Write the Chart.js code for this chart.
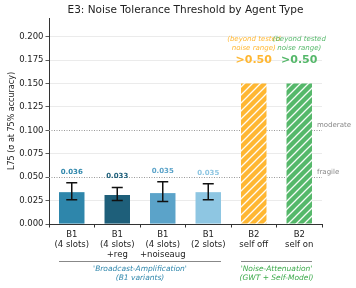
<!DOCTYPE html>
<html lang="en">
<head>
<meta charset="UTF-8">
<title>E3: Noise Tolerance Threshold by Agent Type</title>
<script src="https://cdn.jsdelivr.net/npm/chart.js"></script>
<style>
  html, body { margin: 0; padding: 0; background: #fff; }
</style>
</head>
<body>
<canvas id="e3-chart" width="356" height="288"></canvas>
<script>
// data
const categories = [
    ['B1', '(4 slots)'],
    ['B1', '(4 slots)', '+reg'],
    ['B1', '(4 slots)', '+noiseaug'],
    ['B1', '(2 slots)'],
    ['B2', 'self off'],
    ['B2', 'self on']
];
const barValues = [0.034, 0.031, 0.033, 0.034, 0.15, 0.15];
const errLow = [0.026, 0.025, 0.024, 0.026, null, null];
const errHigh = [0.044, 0.039, 0.045, 0.043, null, null];
const valueLabels = ['0.036', '0.033', '0.035', '0.035', '>0.50', '>0.50'];
const barColors = ['#2E86AB', '#1E5F7A', '#5BA3C9', '#8EC6E2', '#FFB732', '#55B86A'];
const hatched = [false, false, false, false, true, true];
const beyondNote = ['', '', '', '', '(beyond tested\nnoise range)', '(beyond tested\nnoise range)'];
const refValues = [0.1, 0.05];
const refLabels = ['moderate', 'fragile'];
const groupLabels = [["'Broadcast-Amplification'", '(B1 variants)'], ["'Noise-Attenuation'", '(GWT + Self-Model)']];
const groupStart = [0, 4];
const groupEnd = [3, 5];
const groupColors = ['#2E86AB', '#3BAA4A'];

const FONT = '"DejaVu Sans", sans-serif';

function hatch(color) {
    const n = 8;
    const c = document.createElement('canvas');
    c.width = n; c.height = n;
    const g = c.getContext('2d');
    g.fillStyle = color;
    g.fillRect(0, 0, n, n);
    g.strokeStyle = 'rgba(255,255,255,0.95)';
    g.lineWidth = 1.3;
    g.beginPath();
    g.moveTo(0, n); g.lineTo(n, 0);
    g.moveTo(-1, 1); g.lineTo(1, -1);
    g.moveTo(n - 1, n + 1); g.lineTo(n + 1, n - 1);
    g.stroke();
    return g.createPattern(c, 'repeat');
}

const ctx = document.getElementById('e3-chart').getContext('2d');
const fills = barColors.map((c, i) => hatched[i] ? hatch(c) : c);

const annotations = {
    id: 'annotations',
    beforeDatasetsDraw(chart) {
        const g = chart.ctx, y = chart.scales.y, area = chart.chartArea;
        g.save();
        g.strokeStyle = '#999';
        g.lineWidth = 1;
        g.setLineDash([1, 1.5]);
        refValues.forEach((v) => {
            const py = Math.round(y.getPixelForValue(v)) + 0.5;
            g.beginPath();
            g.moveTo(area.left, py);
            g.lineTo(area.right, py);
            g.stroke();
        });
        g.restore();
    },
    afterDatasetsDraw(chart) {
        const g = chart.ctx, y = chart.scales.y, area = chart.chartArea;
        const bars = chart.getDatasetMeta(0).data;
        g.save();
        // error bars
        g.strokeStyle = '#111';
        g.lineWidth = 1.5;
        bars.forEach((b, i) => {
            if (errLow[i] == null) return;
            const top = y.getPixelForValue(errHigh[i]);
            const bot = y.getPixelForValue(errLow[i]);
            g.beginPath();
            g.moveTo(b.x, top); g.lineTo(b.x, bot);
            g.moveTo(b.x - 5.5, top); g.lineTo(b.x + 5.5, top);
            g.moveTo(b.x - 5.5, bot); g.lineTo(b.x + 5.5, bot);
            g.stroke();
        });
        // value labels
        g.textAlign = 'center';
        g.textBaseline = 'middle';
        bars.forEach((b, i) => {
            g.fillStyle = barColors[i];
            if (errHigh[i] != null) {
                g.font = 'bold 7px ' + FONT;
                g.fillText(valueLabels[i], b.x, y.getPixelForValue(errHigh[i]) - 11);
            } else {
                const top = y.getPixelForValue(barValues[i]);
                g.font = 'bold 11px ' + FONT;
                g.fillText(valueLabels[i], b.x, top - 23);
                g.font = 'italic 7px ' + FONT;
                beyondNote[i].split('\n').forEach((line, k) => {
                    g.fillText(line, b.x, top - 44 + k * 8.5);
                });
            }
        });
        // reference line labels
        g.fillStyle = '#888';
        g.font = '7px ' + FONT;
        g.textAlign = 'left';
        refValues.forEach((v, k) => {
            g.fillText(refLabels[k], area.right - 5, y.getPixelForValue(v) - 5);
        });
        g.restore();
    },
    afterDraw(chart) {
        const g = chart.ctx, area = chart.chartArea;
        const bars = chart.getDatasetMeta(0).data;
        g.save();
        // title
        g.fillStyle = '#222';
        g.font = '10.5px ' + FONT;
        g.textAlign = 'center';
        g.textBaseline = 'middle';
        g.fillText('E3: Noise Tolerance Threshold by Agent Type', (area.left + area.right) / 2, 10);
        // group brackets
        groupLabels.forEach((lines, k) => {
            const a = bars[groupStart[k]], b = bars[groupEnd[k]];
            const x0 = a.x - a.width / 2, x1 = b.x + b.width / 2;
            g.strokeStyle = '#888';
            g.lineWidth = 1;
            g.beginPath();
            g.moveTo(x0, 261.5); g.lineTo(x1, 261.5);
            g.stroke();
            g.fillStyle = groupColors[k];
            g.font = 'italic 7.5px ' + FONT;
            lines.forEach((line, j) => g.fillText(line, (a.x + b.x) / 2, 269.5 + j * 9));
        });
        g.restore();
    }
};

new Chart(ctx, {
    type: 'bar',
    data: {
        labels: categories,
        datasets: [{
            data: barValues,
            backgroundColor: fills,
            borderWidth: 0,
            barPercentage: 0.56,
            categoryPercentage: 1
        }]
    },
    options: {
        responsive: false,
        animation: false,
        layout: { padding: { top: 18, right: 34, left: 0, bottom: 0 } },
        plugins: { legend: { display: false }, tooltip: { enabled: false } },
        scales: {
            x: {
                grid: { display: true, drawOnChartArea: false, tickLength: 3.5, color: '#333' },
                border: { color: '#333', width: 1 },
                ticks: { color: '#222', font: { family: FONT, size: 8.5, lineHeight: 1.2 }, padding: 2, maxRotation: 0, autoSkip: false },
                afterFit(scale) { scale.height = 64; }
            },
            y: {
                min: 0,
                max: 0.22,
                afterFit(scale) { scale.width = 49; },
                afterBuildTicks(scale) { scale.ticks = scale.ticks.filter(t => t.value <= 0.2001); },
                grid: {
                    color: (c) => (c.tick && refValues.some(v => Math.abs(v - c.tick.value) < 1e-6)) ? 'rgba(0,0,0,0)' : '#e6e6e6',
                    tickColor: '#333',
                    tickLength: 3.5,
                    lineWidth: 0.8
                },
                border: { color: '#333', width: 1 },
                ticks: {
                    stepSize: 0.025,
                    color: '#222',
                    padding: 2,
                    font: { family: FONT, size: 8.5 },
                    callback: (v) => v.toFixed(3)
                },
                title: {
                    display: true,
                    text: 'L75 (σ at 75% accuracy)',
                    color: '#222',
                    font: { family: FONT, size: 8 },
                    padding: { top: 7, bottom: 2 }
                }
            }
        }
    },
    plugins: [annotations]
});
</script>
</body>
</html>
